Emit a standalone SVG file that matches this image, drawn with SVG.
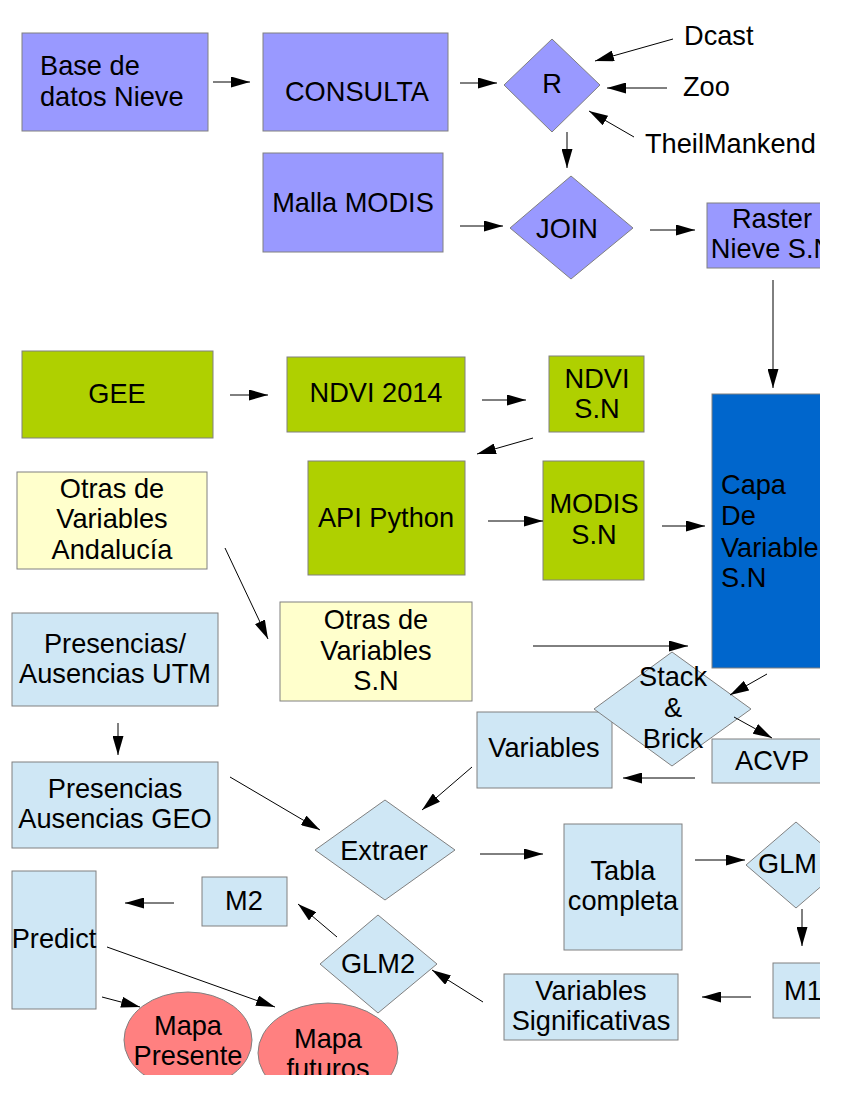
<svg xmlns="http://www.w3.org/2000/svg" width="864" height="1118" viewBox="0 0 864 1118">
<defs>
<clipPath id="page"><rect x="0" y="0" width="820" height="1075"/></clipPath>
<marker id="ah" viewBox="0 0 19 11" refX="19" refY="5.5" markerWidth="19" markerHeight="11" markerUnits="userSpaceOnUse" orient="auto"><path d="M0,0 L19,5.5 L0,11 z" fill="#000"/></marker>
</defs>
<style>
text{font-family:"Liberation Sans",Arial,sans-serif;font-size:27.2px;fill:#000}
.c{text-anchor:middle}
.s{stroke:#808080;stroke-width:1}
.p{fill:#9999ff}
.g{fill:#afd000}
.y{fill:#ffffcc}
.b{fill:#cfe7f5}
.d{fill:#0066cc}
.r{fill:#ff8080}
#connectors line{stroke:#000;stroke-width:1;marker-end:url(#ah)}
</style>
<rect width="864" height="1118" fill="#fff"/>
<g clip-path="url(#page)">
<g id="n_base"><rect class="s p" x="22" y="33" width="186" height="98"/><text x="40" y="75">Base de</text><text x="40" y="106">datos Nieve</text></g>
<g id="n_consulta"><rect class="s p" x="263" y="33" width="185" height="98"/><text class="c" x="357" y="101">CONSULTA</text></g>
<g id="n_r"><polygon class="s p" points="552,39 600,85 552,132 504,85"/><text class="c" x="552" y="93">R</text></g>
<g id="n_dcast"><text x="684" y="45">Dcast</text></g>
<g id="n_zoo"><text x="683" y="96">Zoo</text></g>
<g id="n_theil"><text x="645" y="153">TheilMankend</text></g>
<g id="n_malla"><rect class="s p" x="263" y="153" width="180" height="99"/><text class="c" x="353" y="212">Malla MODIS</text></g>
<g id="n_join"><polygon class="s p" points="571,176 633,228 571,279 510,228"/><text class="c" x="567" y="238">JOIN</text></g>
<g id="n_raster"><rect class="s p" x="707" y="203" width="130" height="65"/><text class="c" x="772" y="228">Raster</text><text class="c" x="772" y="258">Nieve S.N</text></g>
<g id="n_gee"><rect class="s g" x="22" y="351" width="191" height="87"/><text class="c" x="117" y="403">GEE</text></g>
<g id="n_ndvi2014"><rect class="s g" x="287" y="357" width="178" height="75"/><text class="c" x="376" y="402">NDVI 2014</text></g>
<g id="n_ndvisn"><rect class="s g" x="549" y="356" width="95" height="76"/><text class="c" x="597" y="388">NDVI</text><text class="c" x="597" y="418">S.N</text></g>
<g id="n_andalucia"><rect class="s y" x="17" y="472" width="190" height="97"/><text class="c" x="112" y="498">Otras de</text><text class="c" x="112" y="528">Variables</text><text class="c" x="112" y="559">Andalucía</text></g>
<g id="n_api"><rect class="s g" x="308" y="461" width="157" height="114"/><text class="c" x="386" y="527">API Python</text></g>
<g id="n_modissn"><rect class="s g" x="543" y="461" width="101" height="119"/><text class="c" x="594" y="513">MODIS</text><text class="c" x="594" y="544">S.N</text></g>
<g id="n_capa"><rect class="s d" x="712" y="394" width="130" height="274"/><text x="721" y="494">Capa</text><text x="721" y="525">De</text><text x="721" y="557">Variable</text><text x="721" y="587">S.N</text></g>
<g id="n_otras_sn"><rect class="s y" x="280" y="602" width="192" height="99"/><text class="c" x="376" y="629">Otras de</text><text class="c" x="376" y="660">Variables</text><text class="c" x="376" y="690">S.N</text></g>
<g id="n_utm"><rect class="s b" x="12" y="613" width="206" height="93"/><text class="c" x="115" y="653">Presencias/</text><text class="c" x="115" y="683">Ausencias UTM</text></g>
<g id="n_geo"><rect class="s b" x="12" y="762" width="206" height="86"/><text class="c" x="115" y="798">Presencias</text><text class="c" x="115" y="828">Ausencias GEO</text></g>
<g id="n_variables"><rect class="s b" x="477" y="712" width="135" height="76"/><text class="c" x="544" y="757">Variables</text></g>
<g id="n_stack"><polygon class="s b" points="672,652 751,709 672,766 594,709"/><text class="c" x="673" y="686">Stack</text><text class="c" x="673" y="717">&amp;</text><text class="c" x="673" y="748">Brick</text></g>
<g id="n_acvp"><rect class="s b" x="712" y="739" width="130" height="44"/><text x="735" y="770">ACVP</text></g>
<g id="n_extraer"><polygon class="s b" points="385,800 455,850 385,900 315,850"/><text class="c" x="384" y="860">Extraer</text></g>
<g id="n_tabla"><rect class="s b" x="564" y="824" width="118" height="126"/><text class="c" x="623" y="880">Tabla</text><text class="c" x="623" y="910">completa</text></g>
<g id="n_glm"><polygon class="s b" points="796,822 846,865 796,908 746,865"/><text x="758" y="873">GLM</text></g>
<g id="n_m1"><rect class="s b" x="773" y="963" width="80" height="55"/><text x="784" y="1000">M1</text></g>
<g id="n_varsig"><rect class="s b" x="504" y="974" width="174" height="66"/><text class="c" x="591" y="1000">Variables</text><text class="c" x="591" y="1030">Significativas</text></g>
<g id="n_glm2"><polygon class="s b" points="378,915 437,964 378,1013 320,964"/><text class="c" x="378" y="973">GLM2</text></g>
<g id="n_m2"><rect class="s b" x="202" y="877" width="85" height="49"/><text class="c" x="244" y="910">M2</text></g>
<g id="n_predict"><rect class="s b" x="12" y="871" width="84" height="138"/><text class="c" x="54" y="948">Predict</text></g>
<g id="n_mapa_presente"><ellipse class="s r" cx="188" cy="1040" rx="64" ry="48"/><text class="c" x="188" y="1035">Mapa</text><text class="c" x="188" y="1065">Presente</text></g>
<g id="n_mapa_futuros"><ellipse class="s r" cx="328" cy="1053" rx="70" ry="50"/><text class="c" x="328" y="1048">Mapa</text><text class="c" x="328" y="1078">futuros</text></g>
<g id="connectors">
<line x1="213" y1="82" x2="250" y2="82"/>
<line x1="460" y1="83" x2="497" y2="83"/>
<line x1="673" y1="39" x2="595" y2="61"/>
<line x1="667" y1="88" x2="607" y2="88"/>
<line x1="634" y1="137" x2="589" y2="111"/>
<line x1="567" y1="132" x2="567" y2="168"/>
<line x1="460" y1="226" x2="503" y2="226"/>
<line x1="650" y1="230" x2="695" y2="230"/>
<line x1="773" y1="280" x2="773" y2="388"/>
<line x1="230" y1="395" x2="268" y2="395"/>
<line x1="482" y1="400" x2="526" y2="400"/>
<line x1="533" y1="438" x2="477" y2="454"/>
<line x1="488" y1="521" x2="543" y2="521"/>
<line x1="662" y1="526" x2="705" y2="526"/>
<line x1="225" y1="548" x2="268" y2="639"/>
<line x1="533" y1="646" x2="688" y2="646"/>
<line x1="767" y1="674" x2="730" y2="695"/>
<line x1="734" y1="717" x2="772" y2="738"/>
<line x1="695" y1="778" x2="623" y2="778"/>
<line x1="118" y1="723" x2="118" y2="755"/>
<line x1="230" y1="777" x2="320" y2="830"/>
<line x1="472" y1="767" x2="422" y2="810"/>
<line x1="480" y1="854" x2="543" y2="854"/>
<line x1="695" y1="860" x2="745" y2="860"/>
<line x1="802" y1="909" x2="802" y2="946"/>
<line x1="751" y1="997" x2="702" y2="997"/>
<line x1="483" y1="1002" x2="432" y2="970"/>
<line x1="337" y1="937" x2="298" y2="904"/>
<line x1="174" y1="903" x2="125" y2="903"/>
<line x1="102" y1="997" x2="140" y2="1007"/>
<line x1="107" y1="947" x2="275" y2="1007"/>
</g>
</g>
</svg>
